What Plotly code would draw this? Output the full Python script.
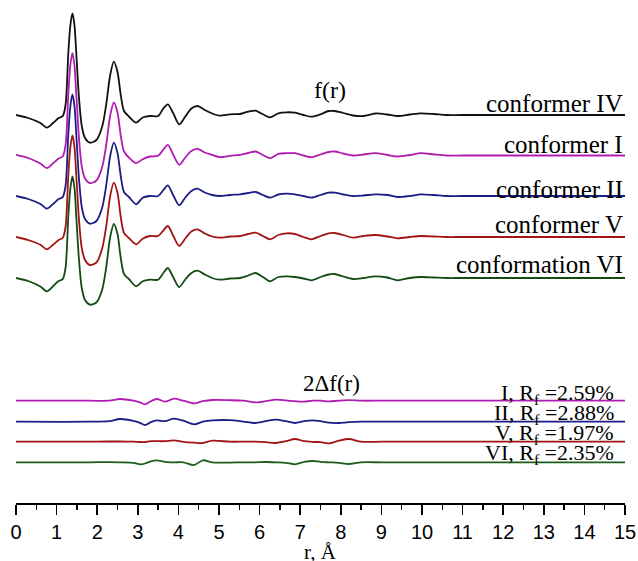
import plotly.graph_objects as go

# r grid (Å) for the f(r) curves
R = [0.0, 0.3, 0.6, 0.76, 0.92, 1.05, 1.15, 1.22, 1.29, 1.34,
     1.39, 1.44, 1.49, 1.55, 1.62, 1.70, 1.82, 1.98, 2.12, 2.22,
     2.32, 2.41, 2.50, 2.58, 2.66, 2.78, 2.96, 3.12, 3.30, 3.50,
     3.63, 3.74, 3.87, 4.02, 4.17, 4.32, 4.47, 4.65, 4.83, 5.02,
     5.27, 5.52, 5.72, 5.90, 6.08, 6.26, 6.46, 6.67, 6.87, 7.08,
     7.28, 7.50, 7.70, 7.85, 8.06, 8.30, 8.56, 8.85, 9.15, 9.40,
     9.70, 9.97, 10.30, 10.60, 11.00, 15.00]

f_IV = [0.0, -0.3, -0.8, -1.27, -0.77, -0.3, -0.12, 1.0, 6.3, 9.0,
        10.17, 9.0, 5.8, 1.8, -1.1, -2.3, -2.77, -2.5, -1.2, 1.0,
        4.0, 5.33, 4.3, 2.0, 0.4, -0.15, -0.77, -0.25, -0.1, -0.1,
        0.67, 1.07, 0.2, -0.93, -0.15, 0.65, 0.9, 0.5, 0.15, -0.07,
        0.07, 0.1, 0.33, 0.43, 0.07, -0.23, 0.17, 0.27, 0.23, 0.0,
        -0.17, 0.07, 0.4, 0.4, 0.2, -0.05, -0.1, 0.15, 0.05, -0.1,
        0.05, 0.17, 0.1, 0.0, 0.0, 0.0]

f_I = [0.07, -0.25, -0.8, -1.27, -0.75, -0.3, -0.1, 1.0, 6.3, 9.1,
       10.24, 9.0, 5.8, 1.8, -1.1, -2.3, -2.77, -2.5, -1.2, 1.0,
       4.0, 5.3, 4.3, 2.0, 0.4, -0.2, -0.77, -0.37, -0.1, -0.03,
       0.6, 1.07, 0.1, -0.93, -0.2, 0.45, 0.67, 0.3, 0.07, -0.17,
       -0.03, 0.07, 0.25, 0.4, 0.05, -0.27, 0.17, 0.23, 0.23, 0.0,
       -0.17, 0.1, 0.35, 0.4, 0.2, 0.0, 0.1, 0.23, 0.05, -0.1,
       0.05, 0.23, 0.1, 0.0, 0.0, 0.0]

f_II = [0.0, -0.3, -0.8, -1.27, -0.77, -0.3, -0.12, 1.0, 6.3, 9.0,
        10.17, 9.0, 5.8, 1.8, -1.1, -2.3, -2.77, -2.5, -1.2, 1.0,
        4.0, 5.33, 4.3, 2.0, 0.4, -0.1, -0.83, -0.17, 0.0, 0.0,
        0.6, 1.07, 0.1, -0.93, -0.15, 0.5, 0.73, 0.35, 0.1, 0.0,
        0.1, 0.17, 0.3, 0.4, 0.1, -0.17, 0.15, 0.23, 0.17, 0.0,
        -0.17, 0.1, 0.33, 0.33, 0.15, 0.0, 0.05, 0.17, 0.1, -0.1,
        0.0, 0.17, 0.1, 0.0, 0.0, 0.0]

f_V = [0.0, -0.3, -0.78, -1.23, -0.75, -0.3, -0.1, 1.0, 6.3, 9.0,
       10.17, 9.0, 5.8, 1.8, -1.1, -2.3, -2.8, -2.55, -1.2, 1.0,
       4.1, 5.43, 4.4, 2.0, 0.4, -0.1, -0.73, -0.17, 0.1, 0.1,
       0.65, 1.1, 0.15, -0.9, -0.15, 0.55, 0.77, 0.35, 0.05, -0.07,
       0.05, 0.1, 0.3, 0.43, 0.1, -0.23, 0.2, 0.37, 0.3, 0.0,
       -0.23, 0.1, 0.37, 0.4, 0.2, -0.07, 0.1, 0.2, 0.05, -0.13,
       0.0, 0.1, 0.05, 0.0, 0.0, 0.0]

f_VI = [0.0, -0.3, -0.85, -1.33, -0.8, -0.3, -0.12, 1.0, 6.3, 9.0,
        10.16, 9.0, 5.8, 1.9, -1.0, -2.2, -2.67, -2.45, -1.2, 1.0,
        4.1, 5.4, 4.4, 2.0, 0.4, -0.1, -0.83, -0.33, -0.17, -0.17,
        0.5, 1.0, 0.1, -0.9, -0.15, 0.5, 0.73, 0.35, 0.0, -0.17,
        -0.05, 0.0, 0.25, 0.5, 0.1, -0.33, 0.1, 0.17, 0.1, -0.05,
        -0.23, 0.1, 0.35, 0.4, 0.15, -0.1, 0.0, 0.17, 0.05, -0.23,
        0.0, 0.1, 0.05, 0.0, 0.0, 0.0]

# r grid for the 2Δf(r) difference curves
RD = [0.0, 1.8, 2.3, 2.56, 2.89, 3.07, 3.18, 3.32, 3.47, 3.67,
      3.89, 4.12, 4.39, 4.6, 4.84, 5.27, 5.6, 5.89, 6.15, 6.4,
      6.65, 6.87, 7.1, 7.3, 7.5, 7.7, 7.95, 8.2, 8.5, 9.0, 10.0, 15.0]

d_I = [0.0, 0.0, 0.0, 0.17, 0.0, -0.2, -0.37, -0.05, 0.17, -0.1,
       0.2, 0.0, -0.27, -0.05, 0.07, 0.05, 0.0, -0.17, -0.05, 0.1,
       0.03, -0.05, -0.1, 0.0, 0.0, -0.07, 0.0, 0.05, 0.0, 0.0, 0.0, 0.0]
d_II = [0.0, 0.0, 0.05, 0.27, 0.08, -0.15, -0.33, -0.05, 0.13, 0.05,
        0.3, 0.1, -0.27, 0.0, 0.13, 0.15, 0.0, -0.13, 0.05, 0.2,
        0.05, -0.13, 0.05, 0.13, 0.05, -0.1, -0.13, -0.05, 0.0, 0.0, 0.0, 0.0]
d_V = [0.0, 0.0, 0.02, 0.02, 0.0, -0.03, -0.03, 0.05, 0.05, 0.05,
       0.13, -0.02, -0.1, -0.13, 0.1, 0.0, 0.0, 0.0, -0.05, -0.13,
       0.05, 0.27, 0.05, -0.02, -0.05, -0.17, 0.1, 0.27, 0.0, 0.0, 0.0, 0.0]
d_VI = [0.0, 0.0, 0.02, 0.0, -0.05, -0.2, -0.12, 0.1, 0.2, 0.05,
        0.0, 0.0, -0.27, 0.2, 0.0, -0.03, 0.0, 0.0, 0.03, 0.0,
        -0.05, -0.2, 0.05, 0.13, 0.05, 0.0, -0.05, -0.17, 0.0, 0.0, 0.0, 0.0]

top_names = ["conformer IV", "conformer I", "conformer II", "conformer V", "conformation VI"]
diff_names = ["I, R<sub>f</sub> =2.59%", "II, R<sub>f</sub> =2.88%",
              "V, R<sub>f</sub> =1.97%", "VI, R<sub>f</sub> =2.35%"]
x_ticks = list(range(0, 16))

# ---- styling / layout ----
top_series = [f_IV, f_I, f_II, f_V, f_VI]
top_colors = ["#111111", "#b01cb0", "#1c1c84", "#a01414", "#154a15"]
top_offsets = [38.8, 34.75, 30.7, 26.6, 22.5]
top_label_y = [39.93, 35.83, 31.4, 27.83, 23.83]

diff_series = [d_I, d_II, d_V, d_VI]
diff_colors = ["#b01cb0", "#1c1c84", "#a01414", "#1d5e1d"]
diff_offsets = [10.23, 8.13, 6.13, 4.07]
diff_label_y = [10.95, 8.95, 6.95, 4.95]

fig = go.Figure()
for ys, c, off in zip(top_series, top_colors, top_offsets):
    fig.add_trace(go.Scatter(x=R, y=[v + off for v in ys], mode="lines",
                             line=dict(color=c, width=1.8, shape="spline", smoothing=0.8),
                             showlegend=False, hoverinfo="skip", cliponaxis=False))
for ys, c, off in zip(diff_series, diff_colors, diff_offsets):
    fig.add_trace(go.Scatter(x=RD, y=[v + off for v in ys], mode="lines",
                             line=dict(color=c, width=1.8, shape="spline", smoothing=0.8),
                             showlegend=False, hoverinfo="skip", cliponaxis=False))

serif = "Liberation Serif, Times New Roman, serif"
annots = []
for name, y in zip(top_names, top_label_y):
    annots.append(dict(x=15, y=y, xref="x", yref="y", text=name, showarrow=False,
                       xanchor="right", yanchor="middle",
                       font=dict(family=serif, size=25, color="black")))
for name, y in zip(diff_names, diff_label_y):
    annots.append(dict(x=14.78, y=y, xref="x", yref="y", text=name, showarrow=False,
                       xanchor="right", yanchor="middle",
                       font=dict(family=serif, size=22, color="black")))
annots.append(dict(x=7.73, y=41.3, xref="x", yref="y", text="f(r)", showarrow=False,
                   font=dict(family=serif, size=24, color="black")))
annots.append(dict(x=7.76, y=12.0, xref="x", yref="y", text="2Δf(r)", showarrow=False,
                   font=dict(family=serif, size=23, color="black")))
annots.append(dict(x=7.51, y=-0.098, xref="x", yref="paper", text="r, Å", showarrow=False,
                   yanchor="middle",
                   font=dict(family=serif, size=21, color="black")))

fig.update_layout(
    width=638, height=561,
    margin=dict(l=16, r=13, t=3, b=58, autoexpand=False),
    paper_bgcolor="white", plot_bgcolor="white",
    annotations=annots,
    xaxis=dict(range=[0, 15], tickvals=x_ticks, ticktext=[str(t) for t in x_ticks],
               automargin=False,
               showgrid=False, zeroline=False, showline=True, linecolor="black",
               linewidth=1.5, ticks="outside", ticklen=10, tickwidth=1.5,
               tickcolor="black",
               tickfont=dict(family="Liberation Sans, Arial, sans-serif", size=20, color="black"),
               minor=dict(dtick=0.5, tick0=0, ticks="outside", ticklen=5, tickwidth=1.5,
                          tickcolor="black", showgrid=False)),
    yaxis=dict(range=[0, 50], visible=False, showgrid=False, zeroline=False,
               automargin=False),
)

fig.write_html("out.html", config={"displayModeBar": False, "staticPlot": True},
               post_script="document.body.style.margin='0';document.body.style.overflow='hidden';")
